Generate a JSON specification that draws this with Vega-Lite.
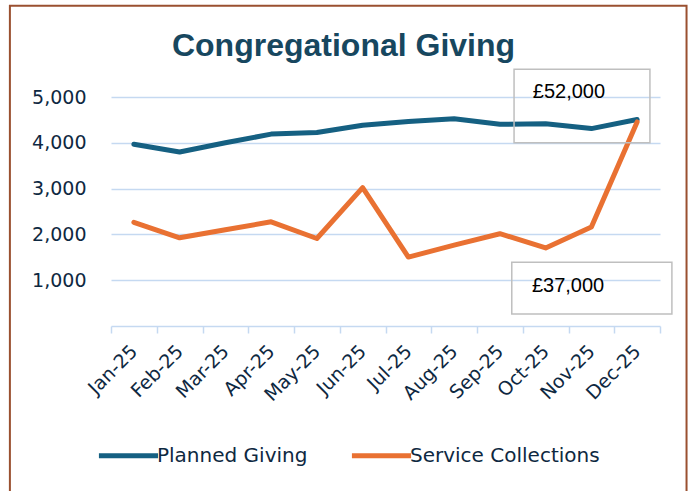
{
  "$schema": "https://vega.github.io/schema/vega-lite/v6.json",
  "autosize": {"type": "none"},
  "width": 549,
  "height": 229,
  "padding": {"left": 111, "top": 97, "right": 34, "bottom": 165},
  "background": "white",
  "config": {"view": {"stroke": null}},
  "title": {
    "text": "Congregational Giving",
    "font": "Liberation Sans",
    "fontWeight": "bold",
    "fontSize": 32,
    "color": "#17475F",
    "anchor": "middle",
    "frame": "group",
    "dx": -42,
    "baseline": "alphabetic",
    "offset": -83
  },
  "datasets": {
    "giving": [
      {"month": "Jan-25", "series": "Planned Giving", "amount": 3970},
      {"month": "Feb-25", "series": "Planned Giving", "amount": 3800},
      {"month": "Mar-25", "series": "Planned Giving", "amount": 4000},
      {"month": "Apr-25", "series": "Planned Giving", "amount": 4190},
      {"month": "May-25", "series": "Planned Giving", "amount": 4225},
      {"month": "Jun-25", "series": "Planned Giving", "amount": 4385},
      {"month": "Jul-25", "series": "Planned Giving", "amount": 4465},
      {"month": "Aug-25", "series": "Planned Giving", "amount": 4525},
      {"month": "Sep-25", "series": "Planned Giving", "amount": 4405},
      {"month": "Oct-25", "series": "Planned Giving", "amount": 4415},
      {"month": "Nov-25", "series": "Planned Giving", "amount": 4310},
      {"month": "Dec-25", "series": "Planned Giving", "amount": 4510},
      {"month": "Jan-25", "series": "Service Collections", "amount": 2265},
      {"month": "Feb-25", "series": "Service Collections", "amount": 1925},
      {"month": "Mar-25", "series": "Service Collections", "amount": 2100},
      {"month": "Apr-25", "series": "Service Collections", "amount": 2275},
      {"month": "May-25", "series": "Service Collections", "amount": 1910},
      {"month": "Jun-25", "series": "Service Collections", "amount": 3020},
      {"month": "Jul-25", "series": "Service Collections", "amount": 1505},
      {"month": "Aug-25", "series": "Service Collections", "amount": 1765},
      {"month": "Sep-25", "series": "Service Collections", "amount": 2015},
      {"month": "Oct-25", "series": "Service Collections", "amount": 1705},
      {"month": "Nov-25", "series": "Service Collections", "amount": 2160},
      {"month": "Dec-25", "series": "Service Collections", "amount": 4455}
    ],
    "one": [{}]
  },
  "layer": [
    {
      "data": {"name": "giving"},
      "mark": {"type": "line", "strokeWidth": 5, "strokeCap": "round", "strokeJoin": "round"},
      "encoding": {
        "x": {
          "field": "month",
          "type": "ordinal",
          "sort": null,
          "scale": {"type": "band", "paddingInner": 0, "paddingOuter": 0},
          "axis": {
            "title": null,
            "labelAngle": -45,
            "labelAlign": "right",
            "labelBaseline": "middle",
            "labelFont": "DejaVu Sans",
            "labelFontSize": 19,
            "labelColor": "#0E2841",
            "labelPadding": 15,
            "tickBand": "extent",
            "ticks": true,
            "tickSize": 7,
            "tickColor": "#C5D9F1",
            "tickWidth": 1.5,
            "domainColor": "#C5D9F1",
            "domainWidth": 1.5,
            "grid": false
          }
        },
        "y": {
          "field": "amount",
          "type": "quantitative",
          "scale": {"domain": [0, 5000], "nice": false},
          "axis": {
            "title": null,
            "values": [1000, 2000, 3000, 4000, 5000],
            "format": ",d",
            "domain": false,
            "ticks": false,
            "tickSize": 0,
            "labelPadding": 25,
            "labelFont": "DejaVu Sans",
            "labelFontSize": 19,
            "labelColor": "#0E2841",
            "grid": true,
            "gridColor": "#C5D9F1",
            "gridWidth": 1.5
          }
        },
        "color": {
          "field": "series",
          "type": "nominal",
          "scale": {"domain": ["Planned Giving", "Service Collections"], "range": ["#156082", "#E97132"]},
          "legend": {
            "title": null,
            "orient": "none",
            "direction": "horizontal",
            "legendX": -15,
            "legendY": 326,
            "symbolType": "stroke",
            "symbolSize": 3500,
            "symbolStrokeWidth": 5,
            "labelFont": "DejaVu Sans",
            "labelFontSize": 20,
            "labelColor": "#0E2841",
            "labelOffset": -4,
            "labelLimit": 400,
            "columnPadding": 33
          }
        }
      }
    },
    {
      "data": {"name": "one"},
      "mark": {"type": "rect", "fill": "transparent", "stroke": "#9A5030", "strokeWidth": 2},
      "encoding": {
        "x": {"datum": -2.21, "type": "quantitative", "scale": {"domain": [0, 12], "nice": false, "zero": false}, "axis": null},
        "x2": {"datum": 12.58},
        "y": {"datum": 6990, "type": "quantitative"},
        "y2": {"datum": -4000}
      }
    },
    {
      "data": {"name": "one"},
      "mark": {"type": "rect", "fill": "transparent", "stroke": "#BFBFBF", "strokeWidth": 1.5},
      "encoding": {
        "x": {"datum": 8.81, "type": "quantitative", "scale": {"domain": [0, 12], "nice": false, "zero": false}, "axis": null},
        "x2": {"datum": 11.78},
        "y": {"datum": 5605, "type": "quantitative"},
        "y2": {"datum": 4002}
      }
    },
    {
      "data": {"name": "one"},
      "mark": {"type": "rect", "fill": "transparent", "stroke": "#BFBFBF", "strokeWidth": 1.5},
      "encoding": {
        "x": {"datum": 8.76, "type": "quantitative", "scale": {"domain": [0, 12], "nice": false, "zero": false}, "axis": null},
        "x2": {"datum": 12.26},
        "y": {"datum": 1391, "type": "quantitative"},
        "y2": {"datum": 262}
      }
    },
    {
      "data": {"name": "one"},
      "mark": {"type": "text", "text": "£52,000", "align": "left", "baseline": "alphabetic", "font": "Liberation Sans", "fontSize": 20, "color": "#000000"},
      "encoding": {
        "x": {"datum": 9.22, "type": "quantitative", "scale": {"domain": [0, 12], "nice": false, "zero": false}, "axis": null},
        "y": {"datum": 4972, "type": "quantitative"}
      }
    },
    {
      "data": {"name": "one"},
      "mark": {"type": "text", "text": "£37,000", "align": "left", "baseline": "alphabetic", "font": "Liberation Sans", "fontSize": 20, "color": "#000000"},
      "encoding": {
        "x": {"datum": 9.2, "type": "quantitative", "scale": {"domain": [0, 12], "nice": false, "zero": false}, "axis": null},
        "y": {"datum": 749, "type": "quantitative"}
      }
    }
  ],
  "resolve": {"scale": {"x": "independent"}}
}
